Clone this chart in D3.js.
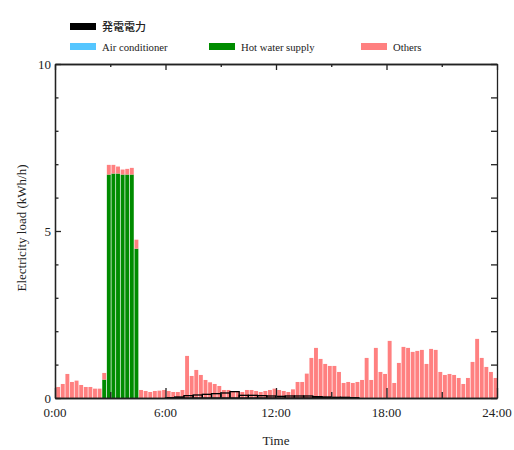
<!DOCTYPE html>
<html>
<head>
<meta charset="utf-8">
<script src="https://cdn.jsdelivr.net/npm/d3@7"></script>
<style>
  body { margin: 0; background: #fff; }
  svg { display: block; }
</style>
</head>
<body>
<svg id="chart" width="514" height="450"></svg>
<script>
// 15-minute slots, 0:00 .. 23:45 (slot index)
const slots = d3.range(96);

const airConditioner = [
  0,0,0,0,0,0,0,0,0,0,0,0,0,0,0,0,0,0,0,0,0,0,0,0,
  0,0,0,0,0,0,0,0,0,0,0,0,0,0,0,0,0,0,0,0,0,0,0,0,
  0,0,0,0,0,0,0,0,0,0,0,0,0,0,0,0,0,0,0,0,0,0,0,0,
  0,0,0,0,0,0,0,0,0,0,0,0,0,0,0,0,0,0,0,0,0,0,0,0
];

const hotWater = [
  0,0,0,0,0,0,0,0,0,0,0.55,6.69,6.72,6.72,6.69,6.69,6.69,4.47,0,0,0,0,0,0,
  0,0,0,0,0,0,0,0,0,0,0,0,0,0,0,0,0,0,0,0,0,0,0,0,
  0,0,0,0,0,0,0,0,0,0,0,0,0,0,0,0,0,0,0,0,0,0,0,0,
  0,0,0,0,0,0,0,0,0,0,0,0,0,0,0,0,0,0,0,0,0,0,0,0
];

const others = [
  0.33,0.42,0.72,0.48,0.52,0.39,0.33,0.33,0.28,0.28,0.20,0.29,0.26,0.21,0.15,0.17,0.20,0.27,0.24,0.21,0.18,0.21,0.22,0.24,
  0.21,0.18,0.18,0.24,1.26,0.66,0.84,0.69,0.54,0.47,0.42,0.36,0.24,0.24,0.18,0.18,0.18,0.24,0.24,0.21,0.18,0.21,0.24,0.28,
  0.24,0.21,0.18,0.26,0.48,0.48,0.73,1.20,1.50,1.17,1.02,0.96,0.96,0.78,0.45,0.48,0.45,0.48,0.54,1.20,0.54,1.50,0.78,0.72,
  1.71,0.45,1.05,1.53,1.50,1.38,1.41,1.44,1.02,1.47,1.44,0.78,0.69,0.72,0.69,0.60,0.42,0.60,1.08,1.77,1.20,0.93,0.78,0.60
];

// generated power, 30-minute bins
const generation = [
  0,0,0,0,0,0,0,0,0,0,0,0,
  0.01,0.03,0.07,0.09,0.11,0.13,0.15,0.19,0.08,0.08,0.07,0.06,
  0.05,0.06,0.06,0.06,0.04,0.03,0.02,0.02,0.01,0,0,0,
  0,0,0,0,0,0,0,0,0,0,0,0
];

const xTickLabels = ["0:00", "6:00", "12:00", "18:00", "24:00"];
const yTickLabels = ["0", "5", "10"];

const colors = { air: "#55c6ff", hot: "#008c00", others: "#ff8080", gen: "#000" };

const svg = d3.select("#chart");
const plotL = 55, plotR = 497, plotT = 64, plotB = 398;

const x = d3.scaleLinear().domain([0, 24]).range([plotL, plotR]);
const y = d3.scaleLinear().domain([0, 10]).range([plotB, plotT]);

// stacked bars
const table = slots.map(i => ({ t: i / 4, air: airConditioner[i], hot: hotWater[i], others: others[i] }));
const stack = d3.stack().keys(["air", "hot", "others"]);
const layers = stack(table);
const slotW = x(0.25) - x(0);

svg.append("g").selectAll("g")
  .data(layers)
  .join("g")
    .attr("fill", d => colors[d.key])
  .selectAll("rect")
  .data(d => d.filter(p => p[1] - p[0] > 0))
  .join("rect")
    .attr("x", d => x(d.data.t) + 1.2)
    .attr("width", slotW - 0.7)
    .attr("y", d => y(d[1]))
    .attr("height", d => y(d[0]) - y(d[1]));

// generated power as outlined step bars
const genBins = generation.map((v, j) => ({ t: j / 2, v: v })).filter(d => d.v > 0);
svg.append("g").selectAll("rect")
  .data(genBins)
  .join("rect")
    .attr("x", d => x(d.t))
    .attr("width", x(0.5) - x(0))
    .attr("y", d => y(d.v))
    .attr("height", d => y(0) - y(d.v))
    .attr("fill", "none")
    .attr("stroke", colors.gen)
    .attr("stroke-width", 1.3);

// axes
const axisColor = "#222";
function styleAxis(g) {
  g.selectAll("path").attr("stroke", axisColor).attr("stroke-width", 1.3);
  g.selectAll("line").attr("stroke", axisColor).attr("stroke-width", 1.3);
  g.selectAll("text").remove();
}

// bottom: minor then major
svg.append("g").attr("transform", `translate(0,${plotB})`)
  .call(d3.axisBottom(x).tickValues([3, 9, 15, 21]).tickSizeInner(-6).tickSizeOuter(0))
  .call(styleAxis);
svg.append("g").attr("transform", `translate(0,${plotB})`)
  .call(d3.axisBottom(x).tickValues([0, 6, 12, 18, 24]).tickSizeInner(-10).tickSizeOuter(0))
  .call(styleAxis)
  .select("path").attr("stroke-width", 1.6);

// top
svg.append("g").attr("transform", `translate(0,${plotT})`)
  .call(d3.axisTop(x).tickValues([3, 9, 15, 21]).tickSizeInner(-3).tickSizeOuter(0))
  .call(styleAxis);
svg.append("g").attr("transform", `translate(0,${plotT})`)
  .call(d3.axisTop(x).tickValues([0, 6, 12, 18, 24]).tickSizeInner(-6).tickSizeOuter(0))
  .call(styleAxis);

// left
svg.append("g").attr("transform", `translate(${plotL},0)`)
  .call(d3.axisLeft(y).tickValues([1, 2, 3, 4, 6, 7, 8, 9]).tickSizeInner(-3.5).tickSizeOuter(0))
  .call(styleAxis);
svg.append("g").attr("transform", `translate(${plotL},0)`)
  .call(d3.axisLeft(y).tickValues([0, 5, 10]).tickSizeInner(-6).tickSizeOuter(0))
  .call(styleAxis);

// right
svg.append("g").attr("transform", `translate(${plotR},0)`)
  .call(d3.axisRight(y).tickValues(d3.range(0, 11)).tickSizeInner(-6).tickSizeOuter(0))
  .call(styleAxis);

// tick labels
const serif = "'Liberation Serif', 'Times New Roman', serif";
svg.append("g").selectAll("text")
  .data(xTickLabels)
  .join("text")
    .attr("x", (d, i) => x(i * 6))
    .attr("y", 417)
    .attr("text-anchor", "middle")
    .attr("font-family", serif)
    .attr("font-size", 13)
    .attr("fill", "#222")
    .text(d => d);

svg.append("g").selectAll("text")
  .data(yTickLabels)
  .join("text")
    .attr("x", 51)
    .attr("y", d => y(+d) + 4.5)
    .attr("text-anchor", "end")
    .attr("font-family", serif)
    .attr("font-size", 13)
    .attr("fill", "#222")
    .text(d => d);

// axis titles
svg.append("text")
  .attr("x", x(12))
  .attr("y", 445)
  .attr("text-anchor", "middle")
  .attr("font-family", serif)
  .attr("font-size", 13)
  .attr("fill", "#222")
  .text("Time");

svg.append("text")
  .attr("transform", `translate(26,${(plotT + plotB) / 2 - 3}) rotate(-90)`)
  .attr("text-anchor", "middle")
  .attr("font-family", serif)
  .attr("font-size", 13)
  .attr("fill", "#222")
  .text("Electricity load (kWh/h)");

// legend
const legendItems = [
  { label: "発電電力", color: colors.gen, lx: 70, ly: 23, cjk: true },
  { label: "Air conditioner", color: colors.air, lx: 70, ly: 43 },
  { label: "Hot water supply", color: colors.hot, lx: 209, ly: 43 },
  { label: "Others", color: colors.others, lx: 361, ly: 43 }
];
const legend = svg.append("g").selectAll("g")
  .data(legendItems)
  .join("g")
    .attr("transform", d => `translate(${d.lx},${d.ly})`);
legend.append("rect")
  .attr("width", 26)
  .attr("height", 7)
  .attr("fill", d => d.color);
legend.append("text")
  .attr("x", 32)
  .attr("y", 7.5)
  .attr("font-family", d => d.cjk ? "'Noto Sans CJK JP', sans-serif" : serif)
  .attr("font-size", d => d.cjk ? 11 : 10.7)
  .attr("font-weight", d => d.cjk ? 500 : 400)
  .attr("fill", "#222")
  .text(d => d.label);
</script>
</body>
</html>
